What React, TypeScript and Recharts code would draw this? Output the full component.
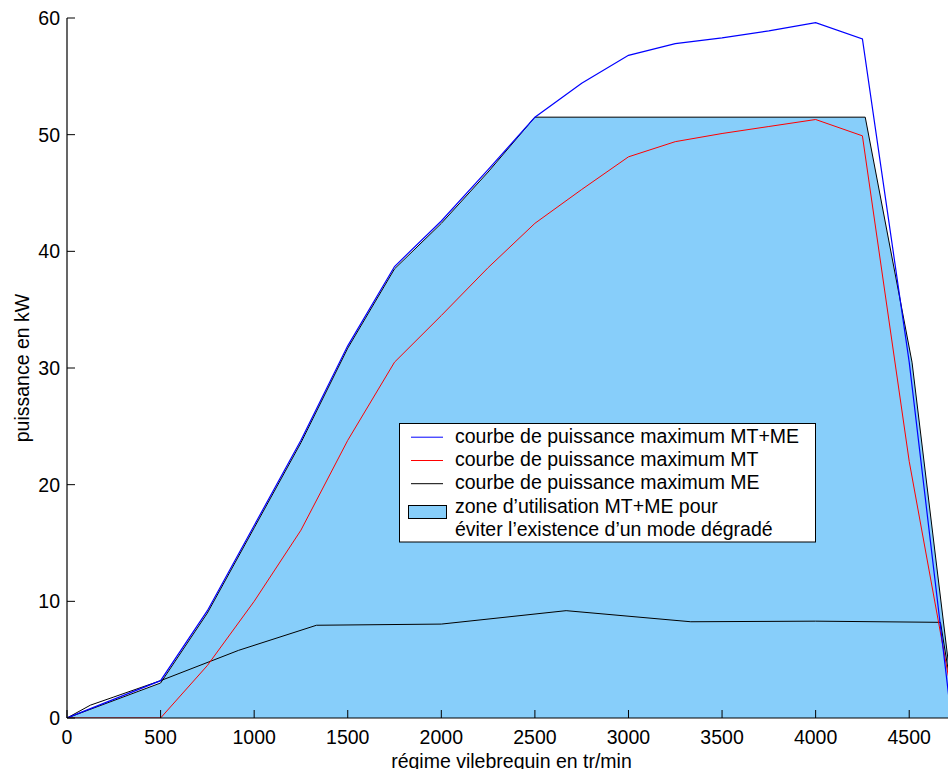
import React from 'react';
import { ComposedChart, Line, Area, XAxis, YAxis, Legend, Label } from 'recharts';

const FONT = '"Liberation Sans", Arial, Helvetica, sans-serif';
const FS = 19.5;

const xTicks = [0, 500, 1000, 1500, 2000, 2500, 3000, 3500, 4000, 4500];
const yTicks = [0, 10, 20, 30, 40, 50, 60];
const xDomain = [0, 4750];
const yDomain = [0, 60];

// courbe de puissance maximum MT+ME
const rpmMTME = [0, 500, 750, 1000, 1250, 1500, 1750, 2000, 2250, 2500, 2750, 3000, 3250, 3500, 3750, 4000, 4250, 4500, 4725];
const powMTME = [0, 3.2, 9.2, 16.5, 23.8, 31.9, 38.7, 42.6, 47.0, 51.5, 54.4, 56.8, 57.8, 58.3, 58.9, 59.6, 58.2, 30.5, 0];

// courbe de puissance maximum MT
const rpmMT = [0, 500, 750, 1000, 1250, 1500, 1750, 2000, 2250, 2500, 2750, 3000, 3250, 3500, 3750, 4000, 4250, 4500, 4750];
const powMT = [0, 0, 4.5, 10.0, 16.1, 23.8, 30.5, 34.5, 38.6, 42.4, 45.3, 48.1, 49.4, 50.1, 50.7, 51.3, 49.9, 22.0, 0];

// courbe de puissance maximum ME
const rpmME = [0, 125, 250, 500, 917, 1333, 2000, 2667, 3333, 4000, 4667, 4750];
const powME = [0, 1.1, 1.8, 3.2, 5.8, 7.95, 8.05, 9.2, 8.25, 8.3, 8.2, 0];

// zone d'utilisation MT+ME
const rpmZone = [0, 500, 750, 1000, 1250, 1500, 1750, 2000, 2250, 2500, 4265, 4515, 4745];
const powZone = [0, 3.0, 9.0, 16.3, 23.6, 31.7, 38.5, 42.4, 46.8, 51.5, 51.5, 30.5, 0];

const legendLabels = [
  'courbe de puissance maximum MT+ME',
  'courbe de puissance maximum MT',
  'courbe de puissance maximum ME',
  'zone d\u2019utilisation MT+ME pour',
  '\u00e9viter l\u2019existence d\u2019un mode d\u00e9grad\u00e9',
];
const legendColors = ['#0000FF', '#FF0000', '#000000'];
const ZONE_FILL = '#87CEFA';

const toPts = (xs: number[], ys: number[]) => xs.map((x, i) => ({ x, y: ys[i] }));
const dataMTME = toPts(rpmMTME, powMTME);
const dataMT = toPts(rpmMT, powMT);
const dataME = toPts(rpmME, powME);
const dataZone = toPts(rpmZone, powZone);

const TICK_LEN = 8;

const BottomTick = (p: any) => {
  const axisY = p.y - 12;
  return (
    <g>
      <line x1={p.x} x2={p.x} y1={axisY} y2={axisY - TICK_LEN} stroke="#000" strokeWidth={1} />
      <text x={p.x} y={p.y} dy="0.71em" textAnchor="middle" fontSize={FS} fontFamily={FONT} fill="#000">
        {p.payload.value}
      </text>
    </g>
  );
};

const TopTick = (p: any) => (
  <line x1={p.x} x2={p.x} y1={p.y} y2={p.y + TICK_LEN} stroke="#000" strokeWidth={1} />
);

const LeftTick = (p: any) => {
  const axisX = p.x + 7;
  return (
    <g>
      <line x1={axisX} x2={axisX + TICK_LEN} y1={p.y} y2={p.y} stroke="#000" strokeWidth={1} />
      <text x={p.x} y={p.y} dy="0.355em" textAnchor="end" fontSize={FS} fontFamily={FONT} fill="#000">
        {p.payload.value}
      </text>
    </g>
  );
};

const RightTick = (p: any) => (
  <line x1={p.x - TICK_LEN} x2={p.x} y1={p.y} y2={p.y} stroke="#000" strokeWidth={1} />
);

const LegendBox = () => {
  const rowY = [19.7, 43, 66.2, 89.5, 112.7];
  return (
    <svg width={418} height={121} style={{ display: 'block' }}>
      <rect x={0.5} y={0.5} width={416} height={118.5} fill="#fff" stroke="#000" strokeWidth={1} />
      {legendColors.map((c, i) => (
        <line key={i} x1={12} x2={44} y1={rowY[i] - 5.5} y2={rowY[i] - 5.5} stroke={c} strokeWidth={1} />
      ))}
      <rect x={9.5} y={82.5} width={38} height={13} fill={ZONE_FILL} stroke="#000" strokeWidth={1} />
      {legendLabels.map((t, i) => (
        <text key={i} x={56} y={rowY[i]} fontSize={FS} fontFamily={FONT} fill="#000">
          {t}
        </text>
      ))}
    </svg>
  );
};

export default function App() {
  return (
    <div
      style={{
        position: 'fixed',
        left: 0,
        top: 0,
        width: 948,
        height: 769,
        overflow: 'hidden',
        background: '#fff',
        fontFamily: FONT,
      }}
    >
      <div style={{ position: 'absolute', left: 8, top: 8 }}>
        <ComposedChart width={1000} height={761} margin={{ top: 10, right: 52, bottom: 0, left: 0 }}>
          <Area
            data={dataZone}
            dataKey="y"
            type="linear"
            stroke="#000"
            strokeWidth={1}
            fill={ZONE_FILL}
            fillOpacity={1}
            isAnimationActive={false}
            dot={false}
            activeDot={false}
          />
          <Line data={dataME} dataKey="y" type="linear" stroke="#000" strokeWidth={1} dot={false} activeDot={false} isAnimationActive={false} />
          <Line data={dataMT} dataKey="y" type="linear" stroke="#FF0000" strokeWidth={1} dot={false} activeDot={false} isAnimationActive={false} />
          <Line data={dataMTME} dataKey="y" type="linear" stroke="#0000FF" strokeWidth={1.2} dot={false} activeDot={false} isAnimationActive={false} />
          <XAxis
            dataKey="x"
            type="number"
            domain={xDomain}
            ticks={xTicks}
            interval={0}
            allowDataOverflow
            height={51}
            tickSize={0}
            tickMargin={12}
            tick={BottomTick}
            axisLine={{ stroke: '#000', strokeWidth: 1.2 }}
          >
            <Label
              content={(props: any) => {
                const vb = props.viewBox;
                return (
                  <text x={vb.x + vb.width / 2} y={vb.y + 50} textAnchor="middle" fontSize={FS} fontFamily={FONT} fill="#000">
                    régime vilebrequin en tr/min
                  </text>
                );
              }}
            />
          </XAxis>
          <XAxis
            xAxisId="top"
            orientation="top"
            dataKey="x"
            type="number"
            domain={xDomain}
            ticks={xTicks}
            interval={0}
            allowDataOverflow
            height={0}
            tickSize={0}
            tickMargin={0}
            tick={TopTick}
            axisLine={{ stroke: '#000', strokeWidth: 1.2 }}
          />
          <YAxis
            type="number"
            domain={yDomain}
            ticks={yTicks}
            interval={0}
            allowDataOverflow
            width={59}
            tickSize={0}
            tickMargin={7}
            tick={LeftTick}
            axisLine={{ stroke: '#000', strokeWidth: 1.2 }}
          >
            <Label
              content={(props: any) => {
                const vb = props.viewBox;
                const cx = vb.x + 21;
                const cy = vb.y + vb.height / 2;
                return (
                  <text
                    x={cx}
                    y={cy}
                    transform={`rotate(-90, ${cx}, ${cy})`}
                    textAnchor="middle"
                    fontSize={FS}
                    fontFamily={FONT}
                    fill="#000"
                  >
                    puissance en kW
                  </text>
                );
              }}
            />
          </YAxis>
          <YAxis
            yAxisId="right"
            orientation="right"
            type="number"
            domain={yDomain}
            ticks={yTicks}
            interval={0}
            allowDataOverflow
            width={0}
            tickSize={0}
            tickMargin={0}
            tick={RightTick}
            axisLine={{ stroke: '#000', strokeWidth: 1.2 }}
          />
          <Legend
            layout="vertical"
            align="center"
            verticalAlign="middle"
            content={() => <LegendBox />}
            wrapperStyle={{ position: 'absolute', left: 391, top: 415, width: 418, height: 121 }}
          />
        </ComposedChart>
      </div>
    </div>
  );
}
